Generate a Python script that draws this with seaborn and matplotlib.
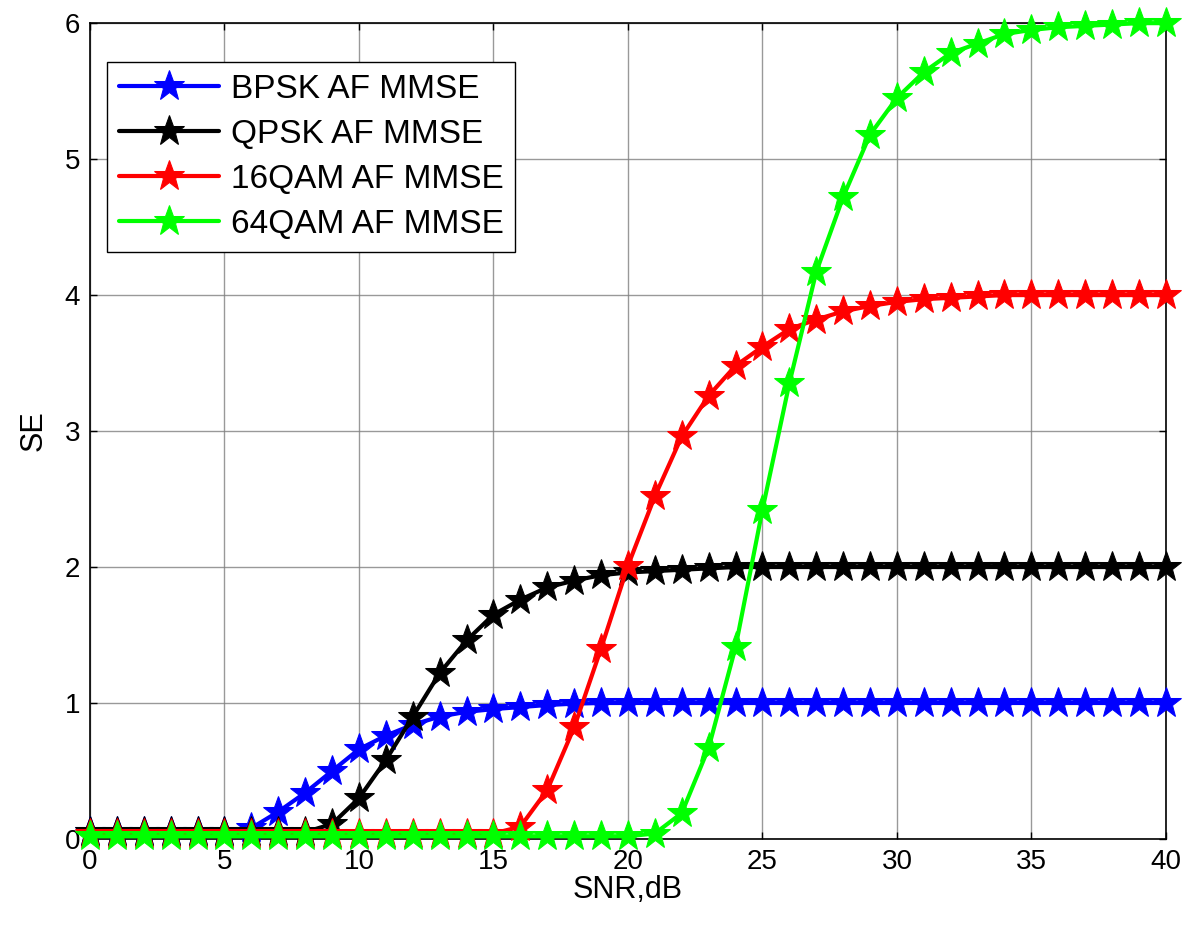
import numpy as np
import pandas as pd
import matplotlib
matplotlib.use("Agg")
import matplotlib.pyplot as plt
import seaborn as sns

snr = list(range(0, 41))

bpsk = [0.05, 0.05, 0.05, 0.05, 0.05, 0.05, 0.08, 0.20, 0.34, 0.50, 0.66,
        0.76, 0.84, 0.90, 0.935, 0.955, 0.97, 0.985, 0.995, 1.0, 1.0,
        1.0, 1.0, 1.0, 1.0, 1.0, 1.0, 1.0, 1.0, 1.0, 1.0,
        1.0, 1.0, 1.0, 1.0, 1.0, 1.0, 1.0, 1.0, 1.0, 1.0]
qpsk = [0.05, 0.05, 0.05, 0.05, 0.05, 0.05, 0.05, 0.05, 0.05, 0.11, 0.30,
        0.58, 0.90, 1.22, 1.46, 1.65, 1.76, 1.85, 1.90, 1.94, 1.96,
        1.97, 1.98, 1.99, 2.0, 2.0, 2.0, 2.0, 2.0, 2.0, 2.0,
        2.0, 2.0, 2.0, 2.0, 2.0, 2.0, 2.0, 2.0, 2.0, 2.0]
qam16 = [0.04, 0.04, 0.04, 0.04, 0.04, 0.04, 0.04, 0.04, 0.04, 0.04, 0.04,
         0.04, 0.04, 0.04, 0.04, 0.04, 0.09, 0.36, 0.82, 1.40, 2.01,
         2.52, 2.96, 3.26, 3.48, 3.62, 3.75, 3.82, 3.88, 3.92, 3.95,
         3.97, 3.98, 3.99, 4.0, 4.0, 4.0, 4.0, 4.0, 4.0, 4.0]
qam64 = [0.02, 0.02, 0.02, 0.02, 0.02, 0.02, 0.02, 0.02, 0.02, 0.02, 0.02,
         0.02, 0.02, 0.02, 0.02, 0.02, 0.02, 0.02, 0.02, 0.02, 0.02,
         0.04, 0.19, 0.67, 1.41, 2.42, 3.35, 4.17, 4.72, 5.18, 5.45,
         5.64, 5.78, 5.85, 5.92, 5.95, 5.97, 5.98, 5.99, 6.0, 6.0]

labels = ["BPSK AF MMSE", "QPSK AF MMSE", "16QAM AF MMSE", "64QAM AF MMSE"]
colors = ["#0000ff", "#000000", "#ff0000", "#00ff00"]
series = [bpsk, qpsk, qam16, qam64]

xticks = [0, 5, 10, 15, 20, 25, 30, 35, 40]
yticks = [0, 1, 2, 3, 4, 5, 6]

sns.set_style("white")
plt.rcParams['font.family'] = ['Liberation Sans', 'DejaVu Sans']
plt.rcParams['text.color'] = 'black'
plt.rcParams['axes.labelcolor'] = 'black'
plt.rcParams['xtick.color'] = 'black'
plt.rcParams['ytick.color'] = 'black'

fig = plt.figure(figsize=(11.97, 9.26), dpi=100)
ax = fig.add_axes([0.0752, 0.094, 0.8988, 0.881])

for vals, lab, col in zip(series, labels, colors):
    sns.lineplot(x=snr, y=vals, ax=ax, color=col, label=lab, marker='*',
                 markersize=23, markeredgecolor=col, markerfacecolor=col,
                 linewidth=3, clip_on=False, zorder=3)

ax.set_xlim(0, 40)
ax.set_ylim(0, 6)
ax.set_xticks(xticks)
ax.set_yticks(yticks)
ax.set_xticklabels([str(t) for t in xticks])
ax.set_yticklabels([str(t) for t in yticks])
ax.grid(True, color='#808080', linewidth=1.0, alpha=0.8)
ax.set_axisbelow(True)
ax.tick_params(direction='in', length=5, width=1, labelsize=20, color='black',
               labelcolor='black',
               top=True, right=True, bottom=True, left=True, pad=7)
for s in ax.spines.values():
    s.set_visible(True)
    s.set_color('black')
    s.set_linewidth(1.2)
ax.set_xlabel("SNR,dB", fontsize=22, labelpad=0, color='black')
ax.set_ylabel("SE", fontsize=22, labelpad=12, color='black')

leg = ax.legend(loc='upper left', bbox_to_anchor=(0.016, 0.952), fontsize=24,
                frameon=True, fancybox=False, edgecolor='black', framealpha=1,
                handlelength=3.0, borderpad=0.35, labelspacing=0.42,
                handletextpad=0.35, borderaxespad=0)
leg.get_frame().set_linewidth(1.0)
for t in leg.get_texts():
    t.set_color('black')

fig.savefig("out.png", dpi=100)
